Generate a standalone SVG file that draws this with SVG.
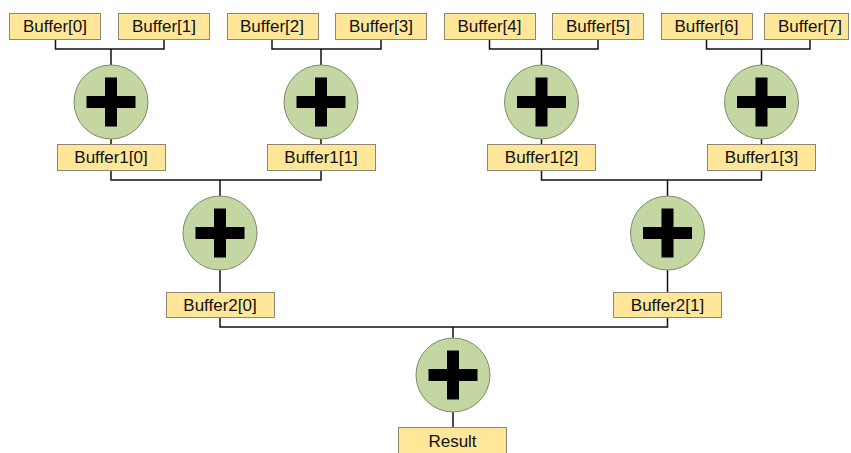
<svg xmlns="http://www.w3.org/2000/svg" width="851" height="453" viewBox="0 0 851 453">
  <defs>
    <style>
      .box { fill: #ffe699; stroke: #8c8672; stroke-width: 1; }
      .lbl { font-family: "Liberation Sans", Arial, sans-serif; font-size: 17px; fill: #111; text-anchor: middle; }
      .add { fill: #c4d7a2; stroke: #7d8a68; stroke-width: 1; }
      .wire { fill: none; stroke: #111; stroke-width: 1.5; }
    </style>
    <!-- plus sign used inside every adder -->
    <g id="plus">
      <rect x="-24.5" y="-6" width="49" height="12" fill="#000"/>
      <rect x="-6" y="-24.5" width="12" height="49" fill="#000"/>
    </g>
  </defs>

  <rect width="851" height="453" fill="#fff"/>

  <!-- connectors -->
  <g id="connectors" class="wire">
    <!-- level 1 -->
    <path d="M55.5 39 V49 H164 V39 M111 49 V65 M111 139 V144"/>
    <path d="M272 39 V49 H381 V39 M321 49 V65 M321 139 V144"/>
    <path d="M489.5 39 V49 H598 V39 M541.5 49 V65 M541.5 139 V144"/>
    <path d="M706.5 39 V49 H810 V39 M761.5 49 V65 M761.5 139 V144"/>
    <!-- level 2 -->
    <path d="M111 171 V180 H321 V171 M220 180 V196 M220 270 V292"/>
    <path d="M541.5 171 V180 H761.5 V171 M667.5 180 V196 M667.5 270 V292"/>
    <!-- level 3 -->
    <path d="M220 317 V327 H667.5 V317 M453 327 V338 M453 412 V427"/>
  </g>

  <!-- input buffers -->
  <g id="buf0"><rect class="box" x="9.5" y="13.5" width="91" height="26"/><text class="lbl" x="55" y="32">Buffer[0]</text></g>
  <g id="buf1"><rect class="box" x="118.5" y="13.5" width="91" height="26"/><text class="lbl" x="164" y="32">Buffer[1]</text></g>
  <g id="buf2"><rect class="box" x="227.5" y="13.5" width="91" height="26"/><text class="lbl" x="272" y="32">Buffer[2]</text></g>
  <g id="buf3"><rect class="box" x="335.5" y="13.5" width="91" height="26"/><text class="lbl" x="381" y="32">Buffer[3]</text></g>
  <g id="buf4"><rect class="box" x="444.5" y="13.5" width="91" height="26"/><text class="lbl" x="489.5" y="32">Buffer[4]</text></g>
  <g id="buf5"><rect class="box" x="552.5" y="13.5" width="91" height="26"/><text class="lbl" x="598" y="32">Buffer[5]</text></g>
  <g id="buf6"><rect class="box" x="661.5" y="13.5" width="91" height="26"/><text class="lbl" x="706.5" y="32">Buffer[6]</text></g>
  <g id="buf7"><rect class="box" x="764.5" y="13.5" width="84" height="26"/><text class="lbl" x="810" y="32">Buffer[7]</text></g>

  <!-- first-level adders -->
  <g id="add1a"><circle class="add" cx="111" cy="102" r="37"/><use href="#plus" x="111" y="102"/></g>
  <g id="add1b"><circle class="add" cx="321" cy="102" r="37"/><use href="#plus" x="321" y="102"/></g>
  <g id="add1c"><circle class="add" cx="541.5" cy="102" r="37"/><use href="#plus" x="541.5" y="102"/></g>
  <g id="add1d"><circle class="add" cx="761.5" cy="102" r="37"/><use href="#plus" x="761.5" y="102"/></g>

  <!-- Buffer1 -->
  <g id="buf1_0"><rect class="box" x="57.5" y="144.5" width="108" height="26"/><text class="lbl" x="111" y="163">Buffer1[0]</text></g>
  <g id="buf1_1"><rect class="box" x="267.5" y="144.5" width="108" height="26"/><text class="lbl" x="321" y="163">Buffer1[1]</text></g>
  <g id="buf1_2"><rect class="box" x="487.5" y="144.5" width="108" height="26"/><text class="lbl" x="541.5" y="163">Buffer1[2]</text></g>
  <g id="buf1_3"><rect class="box" x="707.5" y="144.5" width="108" height="26"/><text class="lbl" x="761.5" y="163">Buffer1[3]</text></g>

  <!-- second-level adders -->
  <g id="add2a"><circle class="add" cx="220" cy="233" r="37"/><use href="#plus" x="220" y="233"/></g>
  <g id="add2b"><circle class="add" cx="667.5" cy="233" r="37"/><use href="#plus" x="667.5" y="233"/></g>

  <!-- Buffer2 -->
  <g id="buf2_0"><rect class="box" x="166.5" y="292.5" width="108" height="25"/><text class="lbl" x="220" y="310.5">Buffer2[0]</text></g>
  <g id="buf2_1"><rect class="box" x="613.5" y="292.5" width="108" height="25"/><text class="lbl" x="667.5" y="310.5">Buffer2[1]</text></g>

  <!-- final adder -->
  <g id="add3"><circle class="add" cx="453" cy="375" r="37"/><use href="#plus" x="453" y="375"/></g>

  <!-- result -->
  <g id="result"><rect class="box" x="398.5" y="427.5" width="108" height="27"/><text class="lbl" x="452.5" y="447">Result</text></g>
</svg>
